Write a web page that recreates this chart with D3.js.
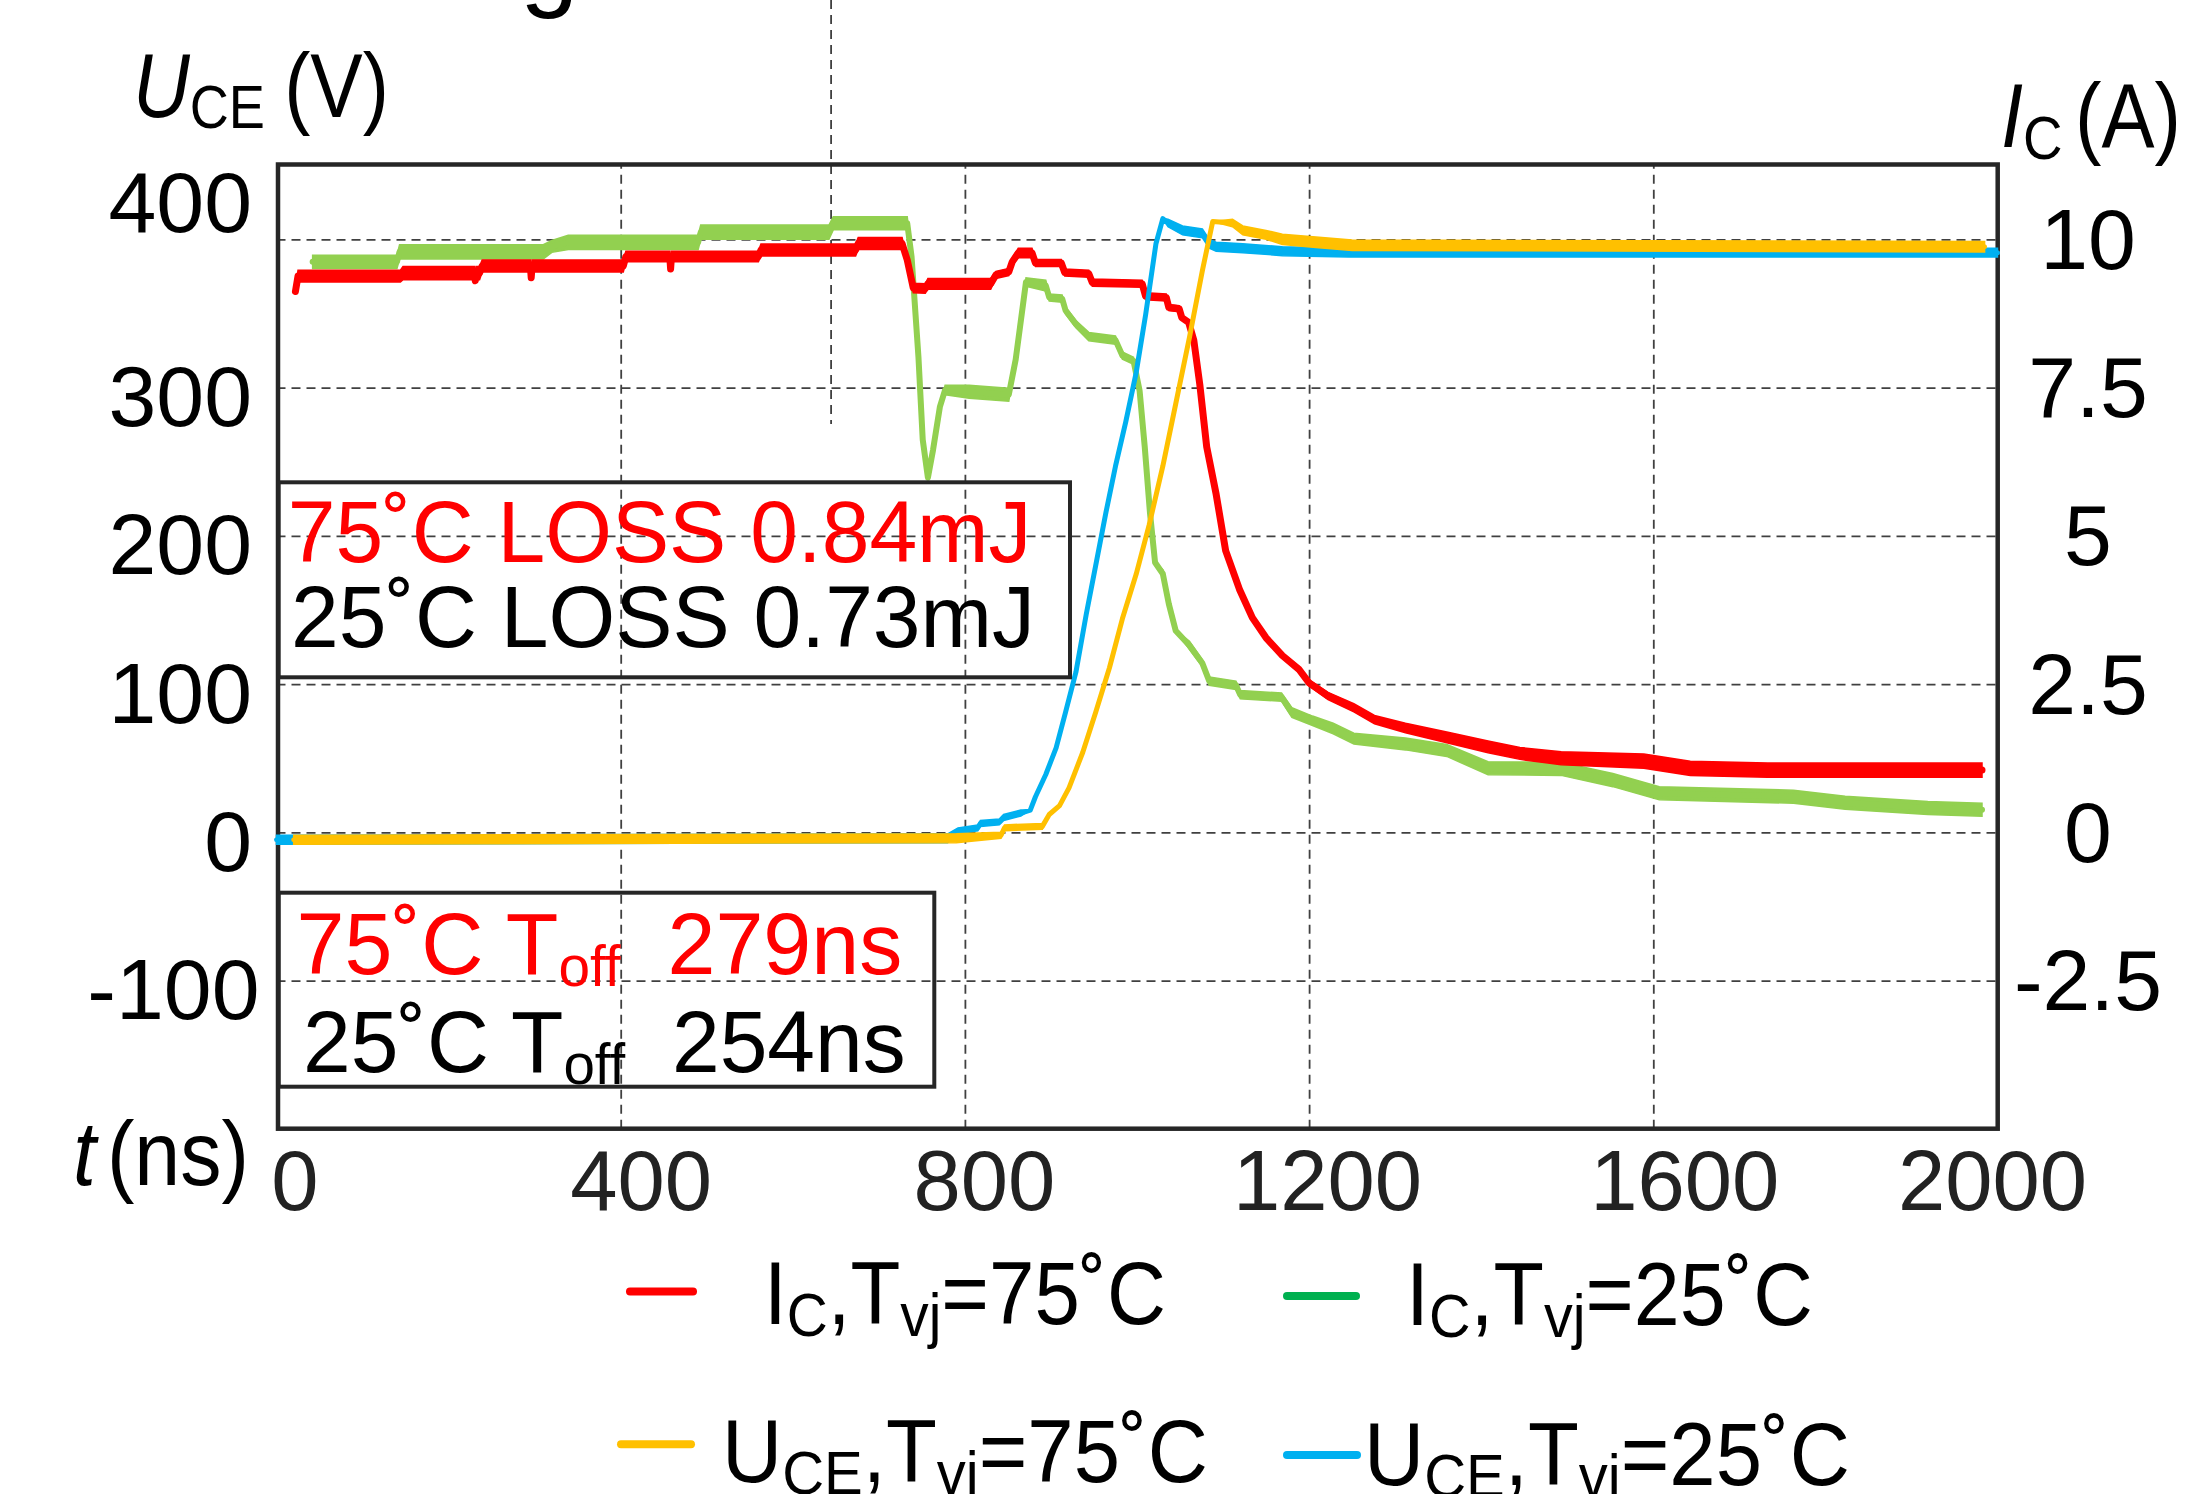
<!DOCTYPE html>
<html><head><meta charset="utf-8">
<script src="https://cdn.jsdelivr.net/npm/d3@7"></script>
<style>
body{margin:0;background:#fff}
svg{display:block}
text{font-family:"Liberation Sans",Arial,Helvetica,sans-serif}
</style>
</head><body>
<svg id="c" width="2187" height="1494"></svg>
<script>
// ---------------- data ----------------
const xTicks = [0, 400, 800, 1200, 1600, 2000];
const xGrid = [400, 800, 1200, 1600];
const uTicks = [400, 300, 200, 100, 0, -100];
const iTicks = [10, 7.5, 5, 2.5, 0, -2.5];

// [t (ns), I_C (A), noise half-band (A)]
const ic75 = [[22,9.12,0.05],[25,9.38,0.1],[144,9.38,0.1],[147,9.43,0.11],[230,9.43,0.11],[231,9.3,0.05],[232,9.43,0.11],[236,9.43,0.11],[239,9.55,0.1],[295,9.55,0.1],[296,9.35,0.05],[297,9.55,0.1],[403,9.55,0.1],[406,9.71,0.09],[457,9.71,0.09],[458,9.5,0.05],[459,9.71,0.09],[560,9.71,0.09],[563,9.82,0.1],[673,9.82,0.1],[676,9.93,0.1],[727,9.93,0.1],[733,9.65,0.03],[740,9.18,0.08],[754,9.17,0.08],[757,9.25,0.09],[830,9.25,0.09],[836,9.4,0.06],[851,9.45,0.06],[855,9.62,0.06],[862,9.77,0.08],[878,9.77,0.08],[882,9.6,0.06],[912,9.6,0.06],[916,9.44,0.06],[944,9.42,0.06],[948,9.27,0.06],[1006,9.25,0.06],[1010,9.04,0.06],[1034,9.02,0.06],[1037,8.85,0.05],[1049,8.83,0.05],[1052,8.68,0.04],[1060,8.6,0],[1066,8.3,0],[1073,7.55,0],[1081,6.5,0],[1092,5.7,0],[1103,4.75,0],[1119,4.1,0],[1134,3.62,0],[1150,3.28,0.03],[1169,2.98,0.04],[1188,2.75,0.05],[1200,2.52,0.05],[1222,2.3,0.06],[1252,2.1,0.07],[1276,1.9,0.07],[1312,1.76,0.08],[1360,1.6,0.09],[1408,1.44,0.1],[1445,1.33,0.1],[1493,1.25,0.11],[1589,1.2,0.12],[1643,1.08,0.12],[1733,1.05,0.12],[1982,1.05,0.12]];
const ic25 = [[42,9.62,0.11],[140,9.62,0.11],[143,9.79,0.12],[310,9.79,0.12],[320,9.88,0.1],[339,9.95,0.12],[490,9.95,0.12],[493,10.12,0.12],[642,10.12,0.12],[647,10.27,0.11],[733,10.27,0.11],[738,9.71,0],[746,8.02,0],[751,6.62,0],[757,5.98,0],[763,6.45,0],[771,7.18,0],[777,7.46,0.08],[805,7.43,0.11],[851,7.38,0.11],[859,7.97,0],[871,9.28,0.07],[894,9.22,0.09],[898,9.02,0.06],[913,9.0,0.06],[917,8.8,0.06],[929,8.57,0.06],[944,8.36,0.07],[975,8.3,0.07],[983,8.04,0.06],[996,7.95,0.06],[1003,7.45,0],[1009,6.5,0],[1015,5.4,0],[1021,4.55,0],[1030,4.36,0.07],[1037,3.85,0],[1045,3.4,0],[1061,3.15,0.07],[1076,2.85,0.06],[1084,2.55,0.07],[1115,2.48,0.07],[1120,2.32,0.07],[1168,2.28,0.07],[1180,2.02,0.08],[1204,1.88,0.08],[1228,1.75,0.09],[1252,1.58,0.09],[1312,1.49,0.1],[1360,1.38,0.1],[1408,1.08,0.11],[1493,1.07,0.11],[1553,0.88,0.11],[1607,0.66,0.11],[1763,0.6,0.11],[1823,0.5,0.11],[1919,0.41,0.11],[1982,0.38,0.11]];
// [t (ns), U_CE (V), noise half-band (V)]
const uce25 = [[0,-5,3],[780,-4,3],[792,1,2],[815,3,2],[818,6,2],[840,7,2],[845,10,2],[865,13,2],[876,15,0],[882,24,0],[894,39,0],[906,57,0],[917,81,0],[929,108,0],[941,147,0],[952,180,0],[964,216,0],[975,247,0],[987,277,0],[999,310,0],[1010,349,0],[1022,397,0],[1030,414,0],[1036,411,2.5],[1053,406,3],[1076,404,3],[1084,397,3],[1092,395,3],[1123,394,3],[1169,392,3],[1246,391,3],[2000,391,3]];
const uce75 = [[20,-5,3],[790,-4,3],[842,-2,2],[846,3,2],[890,4,2],[898,12,0],[910,18,0],[921,30,0],[937,54,0],[952,81,0],[968,111,0],[983,144,0],[999,174,0],[1014,207,0],[1030,247,0],[1045,289,0],[1061,334,0],[1076,379,0],[1088,412,0],[1111,411,2.5],[1123,406,3],[1150,403,3],[1169,400,3.5],[1208,398,3.5],[1250,396,3.5],[1985,395,3.5]];

const lossText = ["75˚C LOSS 0.84mJ", "25˚C LOSS 0.73mJ"];
const toffTemp = ["75˚C T", "25˚C T"];
const toffVal = ["279ns", "254ns"];
const legendTemps = ["75˚C", "25˚C"];

// ---------------- layout ----------------
const L = 276.5, R = 1997.5, T = 165.2, B = 1128.8;
const x = d3.scaleLinear().domain([0, 2000]).range([L, R]);
const yU = d3.scaleLinear().domain([-200, 450]).range([B, T]);
const yI = d3.scaleLinear().domain([-5, 11.25]).range([B, T]);
const svg = d3.select("#c");
const RED = "#FF0000", LGREEN = "#92D050", GREEN = "#00B050", YEL = "#FFC000", BLUE = "#00B0F0", FRAME = "#262626";

// cut-off remnants of the page above
svg.append("text").attr("x", 520).attr("y", -3).attr("font-size", 105).attr("fill", "#000").text("g");
svg.append("line").attr("x1", x(644.5)).attr("x2", x(644.5)).attr("y1", 0).attr("y2", 424)
  .attr("stroke", "#404040").attr("stroke-width", 1.8).attr("stroke-dasharray", "9,6");

// grid
const gv = svg.append("g").attr("transform", `translate(0,${B})`)
  .call(d3.axisBottom(x).tickValues(xGrid).tickSize(-(B - T)).tickFormat(""));
gv.select(".domain").remove();
gv.selectAll("line").attr("stroke", "#404040").attr("stroke-width", 1.8).attr("stroke-dasharray", "9,6");
const gh = svg.append("g").attr("transform", `translate(${L},0)`)
  .call(d3.axisLeft(yU).tickValues(uTicks).tickSize(-(R - L)).tickFormat(""));
gh.select(".domain").remove();
gh.selectAll("line").attr("stroke", "#404040").attr("stroke-width", 1.8).attr("stroke-dasharray", "9,6");

// frame
svg.append("rect").attr("x", 278).attr("y", 164.5).attr("width", 1997.7 - 278).attr("height", 1128.7 - 164.5)
  .attr("fill", "none").attr("stroke", FRAME).attr("stroke-width", 4.5);

// axes labels
const axL = svg.append("g").attr("transform", `translate(${L},0)`)
  .call(d3.axisLeft(yU).tickValues(uTicks).tickSize(0).tickFormat(d => String(d)));
axL.select(".domain").remove();
axL.attr("font-size", null).attr("font-family", null);
axL.selectAll("text").attr("x", d => d < 0 ? -17 : -24.5).attr("dy", null).attr("y", d => d === 400 ? -8 : 38)
  .attr("font-size", 86).attr("fill", "#000").attr("text-anchor", "end");

const axR = svg.append("g").attr("transform", `translate(${R},0)`)
  .call(d3.axisRight(yI).tickValues(iTicks).tickSize(0).tickFormat(d => String(d)));
axR.select(".domain").remove();
axR.attr("font-size", null).attr("font-family", null);
axR.selectAll("text").attr("x", 90.5).attr("dy", null).attr("y", 29)
  .attr("font-size", 86).attr("fill", "#000").attr("text-anchor", "middle");

const xShift = {0: 18, 400: 20, 800: 19, 1200: 18, 1600: 31, 2000: -5.5};
const axB = svg.append("g").attr("transform", `translate(0,${B})`)
  .call(d3.axisBottom(x).tickValues(xTicks).tickSize(0).tickFormat(d => String(d)));
axB.select(".domain").remove();
axB.attr("font-size", null).attr("font-family", null);
axB.selectAll("text").attr("x", d => xShift[d]).attr("dy", null).attr("y", 81.5)
  .attr("font-size", 85).attr("fill", "#222").attr("text-anchor", "middle");

// traces
function drawTrace(data, ys, color, sw) {
  const area = d3.area().x(d => x(d[0])).y0(d => ys(d[1] - d[2])).y1(d => ys(d[1] + d[2]));
  const line = d3.line().x(d => x(d[0])).y(d => ys(d[1]));
  svg.append("path").datum(data).attr("d", area).attr("fill", color).attr("stroke", color).attr("stroke-width", 1.5);
  svg.append("path").datum(data).attr("d", line).attr("fill", "none").attr("stroke", color)
    .attr("stroke-width", sw).attr("stroke-linejoin", "round").attr("stroke-linecap", "round");
}
drawTrace(ic25, yI, LGREEN, 6);
drawTrace(ic75, yI, RED, 7);
drawTrace(uce25, yU, BLUE, 5);
drawTrace(uce75, yU, YEL, 5);

// rich text helper
function rich(parent, x0, x1, y, size, fill, parts) {
  const t = parent.append("text").attr("x", x0).attr("y", y).attr("font-size", size).attr("fill", fill);
  let shift = 0;
  parts.forEach(p => {
    const ts = t.append("tspan").text(p.t);
    const s = p.sub || 0;
    if (s - shift) ts.attr("dy", s - shift);
    shift = s;
    if (p.size) ts.attr("font-size", p.size);
    if (p.dx) ts.attr("dx", p.dx);
    if (p.it) ts.attr("font-style", "italic");
  });
  const bb = t.node().getBBox();
  const k = (x1 - x0) / bb.width;
  t.attr("x", 0).attr("transform", `translate(${x0},0) scale(${k},1)`);
  const bb2 = t.node().getBBox();
  t.attr("transform", `translate(${x0 - bb2.x * k},0) scale(${k},1)`);
  return t;
}

// axis titles
rich(svg, 133, 389, 116.7, 90, "#000", [{t: "U", it: true}, {t: "CE", sub: 11, size: 62}, {t: "(V)", sub: 0, dx: 22}]);
rich(svg, 2001, 2181, 146.7, 90, "#000", [{t: "I", it: true}, {t: "C", sub: 12, size: 62}, {t: "(A)", sub: 0, dx: 14}]);
rich(svg, 73, 249, 1185, 90, "#000", [{t: "t", it: true}, {t: "(ns)", dx: 12}]);

// annotation boxes
svg.append("rect").attr("x", 278.6).attr("y", 482.3).attr("width", 1070 - 278.6).attr("height", 677.3 - 482.3)
  .attr("fill", "none").attr("stroke", FRAME).attr("stroke-width", 4);
rich(svg, 287.7, 1031.6, 561.7, 88, RED, [{t: lossText[0]}]);
rich(svg, 291, 1035, 646.7, 88, "#000", [{t: lossText[1]}]);

svg.append("rect").attr("x", 278.7).attr("y", 892.7).attr("width", 934.3 - 278.7).attr("height", 1086.7 - 892.7)
  .attr("fill", "none").attr("stroke", FRAME).attr("stroke-width", 4);
rich(svg, 296.6, 902.4, 974.3, 88, RED, [{t: toffTemp[0]}, {t: "off", sub: 12, size: 58}, {t: toffVal[0], sub: 0, dx: 48}]);
rich(svg, 303, 905.6, 1071.7, 88, "#000", [{t: toffTemp[1]}, {t: "off", sub: 12, size: 58}, {t: toffVal[1], sub: 0, dx: 48}]);

// legend
const legend = [
  {color: RED, sw: [630, 693, 1291.6], txt: [764, 1166, 1324], main: "I", sub: "C", temp: legendTemps[0]},
  {color: GREEN, sw: [1287, 1356, 1296], txt: [1406, 1813, 1325], main: "I", sub: "C", temp: legendTemps[1]},
  {color: YEL, sw: [621, 691, 1444.3], txt: [722, 1208, 1482], main: "U", sub: "CE", temp: legendTemps[0]},
  {color: BLUE, sw: [1287, 1357, 1455], txt: [1364, 1850, 1485], main: "U", sub: "CE", temp: legendTemps[1]}
];
legend.forEach(e => {
  svg.append("line").attr("x1", e.sw[0]).attr("x2", e.sw[1]).attr("y1", e.sw[2]).attr("y2", e.sw[2])
    .attr("stroke", e.color).attr("stroke-width", 8).attr("stroke-linecap", "round");
  rich(svg, e.txt[0], e.txt[1], e.txt[2], 89, "#000", [
    {t: e.main}, {t: e.sub, sub: 12, size: 62}, {t: ",T", sub: 0}, {t: "vj", sub: 12, size: 62}, {t: "=" + e.temp, sub: 0}
  ]);
});
</script>
</body></html>
